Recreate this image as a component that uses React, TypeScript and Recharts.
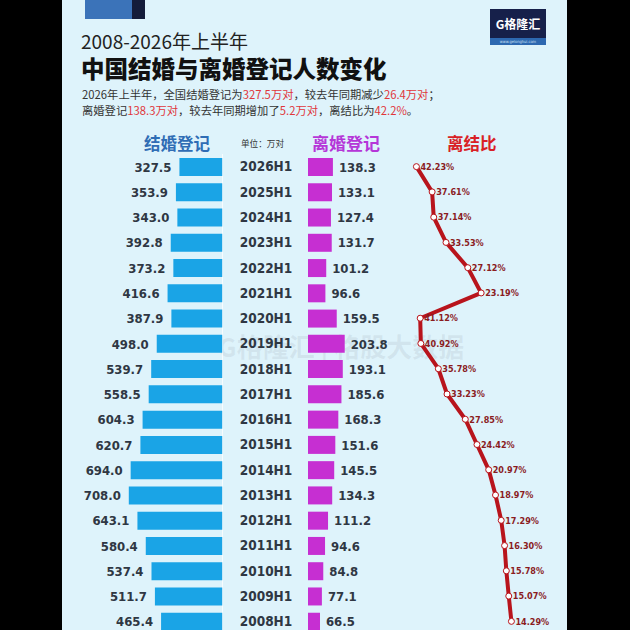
import { Bar, ComposedChart, LabelList, Line, ReferenceLine, XAxis, YAxis } from "recharts";

const years = [
  "2026H1", "2025H1", "2024H1", "2023H1", "2022H1", "2021H1", "2020H1", "2019H1", "2018H1", "2017H1",
  "2016H1", "2015H1", "2014H1", "2013H1", "2012H1", "2011H1", "2010H1", "2009H1", "2008H1"
];
const marriage = [
  327.5, 353.9, 343.0, 392.8, 373.2, 416.6, 387.9, 498.0, 539.7, 558.5,
  604.3, 620.7, 694.0, 708.0, 643.1, 580.4, 537.4, 511.7, 465.4
];
const divorce = [
  138.3, 133.1, 127.4, 131.7, 101.2, 96.6, 159.5, 203.8, 193.1, 185.6,
  168.3, 151.6, 145.5, 134.3, 111.2, 94.6, 84.8, 77.1, 66.5
];
const ratio = [
  42.23, 37.61, 37.14, 33.53, 27.12, 23.19, 41.12, 40.92, 35.78, 33.23,
  27.85, 24.42, 20.97, 18.97, 17.29, 16.3, 15.78, 15.07, 14.29
];

const data = years.map((year, i) => ({
  year,
  marriage: marriage[i],
  divorce: divorce[i],
  ratio: ratio[i]
}));

const CJK = "'Noto Sans CJK SC', 'Noto Sans', sans-serif";
const NUM = "'DejaVu Sans Condensed', 'DejaVu Sans', sans-serif";
const numColor = "#2f3743";
const chartTop = 154;
const chartHeight = 480;
// half a row, so the line's points sit on the bar rows
const halfRow = chartHeight / years.length / 2;

function MarriageLabel(props: any) {
  const { x, y, width, height, value } = props;
  const left = Math.min(x, x + width);
  return (
    <text x={left - 8} y={y + height / 2} dy="0.36em" textAnchor="end"
      fontFamily={NUM} fontWeight={700} fontSize={13} fill={numColor}>
      {Number(value).toFixed(1)}
    </text>
  );
}

function DivorceLabel(props: any) {
  const { x, y, width, height, value } = props;
  const right = Math.max(x, x + width);
  return (
    <text x={right + 6} y={y + height / 2} dy="0.36em" textAnchor="start"
      fontFamily={NUM} fontWeight={700} fontSize={13} fill={numColor}>
      {Number(value).toFixed(1)}
    </text>
  );
}

function RatioLabel(props: any) {
  const { x, y, value } = props;
  return (
    <text x={x + 4} y={y} dy="0.36em" textAnchor="start"
      fontFamily={NUM} fontWeight={700} fontSize={9} fill="#8a1c1f">
      {Number(value).toFixed(2)}%
    </text>
  );
}

function YearTick(props: any) {
  const { x, y, payload } = props;
  return (
    <text x={x - 34} y={y} dy="0.36em" textAnchor="middle"
      fontFamily={NUM} fontWeight={700} fontSize={13.5} fill={numColor}>
      {payload.value}
    </text>
  );
}

const red = { color: "#e0363a" };

export default function App() {
  return (
    <div style={{ position: "absolute", left: 0, top: 0, width: 630, height: 630, background: "#000", overflow: "hidden", fontFamily: CJK }}>
      <div style={{ position: "absolute", left: 62, top: 0, width: 505, height: 630, background: "#def3fb" }} />
      {/* top decoration */}
      <div style={{ position: "absolute", left: 85, top: 0, width: 47, height: 19, background: "#3b73b9" }} />
      <div style={{ position: "absolute", left: 132, top: 0, width: 13, height: 19, background: "#141c3a" }} />
      {/* logo */}
      <div style={{ position: "absolute", left: 490, top: 9, width: 56, height: 29, background: "#16204a", color: "#fff", fontSize: 12, fontWeight: 700, lineHeight: "29px", textAlign: "center" }}>
        G格隆汇
      </div>
      <div style={{ position: "absolute", left: 490, top: 38, width: 56, height: 7, background: "#2d68b0", color: "#cfe0f5", fontSize: 4, lineHeight: "7px", textAlign: "center", fontFamily: NUM }}>
        www.gelonghui.com
      </div>
      {/* titles */}
      <div style={{ position: "absolute", left: 81, top: 29, fontSize: 19, color: "#222", whiteSpace: "nowrap", lineHeight: "24px" }}>
        2008-2026年上半年
      </div>
      <div style={{ position: "absolute", left: 81, top: 53, fontSize: 23.5, fontWeight: 900, color: "#111", whiteSpace: "nowrap", lineHeight: "30px" }}>
        中国结婚与离婚登记人数变化
      </div>
      <div style={{ position: "absolute", left: 82, top: 86, fontSize: 11.3, color: "#333", whiteSpace: "nowrap", lineHeight: "16px" }}>
        2026年上半年，全国结婚登记为<span style={red}>327.5万对</span>，较去年同期减少<span style={red}>26.4万对</span>；
      </div>
      <div style={{ position: "absolute", left: 82, top: 102, fontSize: 11.3, color: "#333", whiteSpace: "nowrap", lineHeight: "16px" }}>
        离婚登记<span style={red}>138.3万对</span>，较去年同期增加了<span style={red}>5.2万对</span>，离结比为<span style={red}>42.2%</span>。
      </div>
      {/* column headers */}
      <div style={{ position: "absolute", left: 144, top: 132, fontSize: 16.5, fontWeight: 700, color: "#2f6db5", whiteSpace: "nowrap", lineHeight: "22px" }}>结婚登记</div>
      <div style={{ position: "absolute", left: 241, top: 137, fontSize: 8.6, color: "#333", whiteSpace: "nowrap", lineHeight: "12px" }}>单位：万对</div>
      <div style={{ position: "absolute", left: 312, top: 132, fontSize: 17, fontWeight: 700, color: "#b536d8", whiteSpace: "nowrap", lineHeight: "22px" }}>离婚登记</div>
      <div style={{ position: "absolute", left: 447, top: 132, fontSize: 16.5, fontWeight: 700, color: "#d91f26", whiteSpace: "nowrap", lineHeight: "22px" }}>离结比</div>

      {/* faint watermark, behind the charts */}
      <div style={{ position: "absolute", left: 218, top: 330, fontSize: 26, fontWeight: 700, color: "rgba(120,130,140,0.13)", whiteSpace: "nowrap", lineHeight: "32px" }}>
        G格隆汇 | 格股大数据
      </div>

      {/* marriage bars, growing leftwards */}
      <div style={{ position: "absolute", left: 62, top: chartTop }}>
        <ComposedChart layout="vertical" width={161} height={chartHeight} data={data} margin={{ top: 0, right: 0, bottom: 0, left: 0 }}>
          <XAxis type="number" hide reversed domain={[0, 1210]} />
          <YAxis type="category" dataKey="year" hide />
          <Bar dataKey="marriage" fill="#1aa4e6" barSize={18} isAnimationActive={false}>
            <LabelList dataKey="marriage" content={MarriageLabel} />
          </Bar>
          <ReferenceLine x={0} stroke="#ffffff" strokeWidth={1.5} />
        </ComposedChart>
      </div>

      {/* year labels + divorce bars */}
      <div style={{ position: "absolute", left: 223, top: chartTop }}>
        <ComposedChart layout="vertical" width={185} height={chartHeight} data={data} margin={{ top: 0, right: 0, bottom: 0, left: 0 }}>
          <XAxis type="number" hide domain={[0, 555]} />
          <YAxis type="category" dataKey="year" width={85} axisLine={false} tickLine={false} tick={YearTick} interval={0} />
          <Bar dataKey="divorce" fill="#c62fd2" barSize={18} isAnimationActive={false}>
            <LabelList dataKey="divorce" content={DivorceLabel} />
          </Bar>
        </ComposedChart>
      </div>

      {/* divorce / marriage ratio line, higher values to the left */}
      <div style={{ position: "absolute", left: 390, top: chartTop }}>
        <ComposedChart layout="vertical" width={170} height={chartHeight} data={data} margin={{ top: 0, right: 0, bottom: 0, left: 0 }}>
          <XAxis type="number" hide reversed domain={[0, 50]} />
          <YAxis type="category" dataKey="year" hide padding={{ top: halfRow, bottom: halfRow }} />
          <Line dataKey="ratio" stroke="#b8141c" strokeWidth={4} isAnimationActive={false}
            dot={{ r: 3, fill: "#ffffff", stroke: "#b8141c", strokeWidth: 1 }}>
            <LabelList dataKey="ratio" content={RatioLabel} />
          </Line>
        </ComposedChart>
      </div>
    </div>
  );
}
